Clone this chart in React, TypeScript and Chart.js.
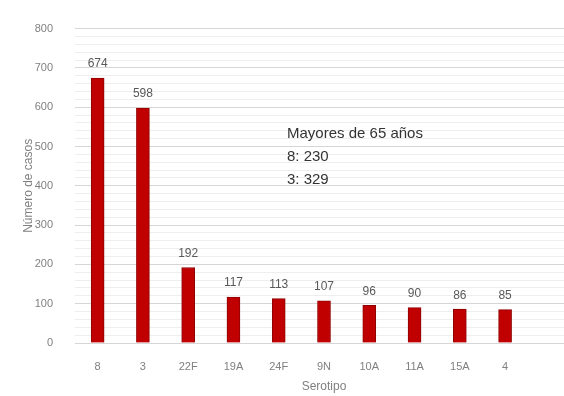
import React, { useEffect, useRef } from "react";
import { Chart, registerables } from "chart.js";

Chart.register(...registerables);

const categories = ["8", "3", "22F", "19A", "24F", "9N", "10A", "11A", "15A", "4", ""];
const casos = [674, 598, 192, 117, 113, 107, 96, 90, 86, 85, null];
const yTicksMax = 800;
const annotationLines = ["Mayores de 65 años", "8: 230", "3: 329"];
const yTitle = "Número de casos";
const xTitle = "Serotipo";

const FONT = "'Liberation Sans', Arial, sans-serif";

const labelPlugin = {
  id: "labels",
  afterDatasetsDraw(chart: any) {
    const ctx = chart.ctx;
    const meta = chart.getDatasetMeta(0);
    ctx.save();
    ctx.font = `12px ${FONT}`;
    ctx.fillStyle = "#595959";
    ctx.textAlign = "center";
    ctx.textBaseline = "middle";
    meta.data.forEach((bar: any, i: number) => {
      const v = casos[i];
      if (v == null) return;
      ctx.fillText(String(v), bar.x, bar.y - 14);
    });
    const area = chart.chartArea;
    ctx.font = `15px ${FONT}`;
    ctx.fillStyle = "#333333";
    ctx.textAlign = "left";
    annotationLines.forEach((t, i) => {
      ctx.fillText(t, area.left + 212, area.top + 105 + i * 23);
    });
    ctx.restore();
  },
};

export default function App() {
  const ref = useRef<HTMLCanvasElement>(null);
  useEffect(() => {
    if (!ref.current) return;
    const chart = new Chart(ref.current, {
      type: "bar",
      data: {
        labels: categories,
        datasets: [
          {
            data: casos as any,
            backgroundColor: "#c00000",
            borderColor: "#8e0000",
            borderWidth: 1,
            barThickness: 13,
          },
        ],
      },
      options: {
        animation: false,
        responsive: false,
        layout: { padding: { top: 25, right: 0, left: 0, bottom: 0 } },
        plugins: { legend: { display: false }, tooltip: { enabled: false } },
        scales: {
          x: {
            grid: { display: false, drawTicks: false },
            border: { display: false },
            ticks: { color: "#808080", font: { family: FONT, size: 11 }, padding: 17, maxRotation: 0, autoSkip: false },
            title: { display: true, text: xTitle, color: "#808080", font: { family: FONT, size: 12 }, padding: { top: 2, bottom: 2 } },
            afterFit: (s: any) => { s.height = 53; },
          },
          y: {
            min: 0,
            max: yTicksMax,
            grid: {
              drawTicks: false,
              color: (c: any) => (c.tick && c.tick.value % 100 === 0 ? "#d6d6d6" : "#eeeeee"),
              lineWidth: 1,
            },
            border: { display: false },
            ticks: {
              stepSize: 20,
              autoSkip: false,
              color: "#808080",
              font: { family: FONT, size: 11 },
              padding: 22,
              callback: (v: any) => (v % 100 === 0 ? String(v) : ""),
            },
            title: { display: true, text: yTitle, color: "#808080", font: { family: FONT, size: 12 }, padding: { top: 21, bottom: 0 } },
            afterFit: (s: any) => { s.width = 75; },
          },
        },
      },
      plugins: [labelPlugin],
    });
    return () => chart.destroy();
  }, []);
  return (
    <div style={{ position: "fixed", left: 0, top: 0, width: 564, height: 396, overflow: "hidden", background: "#fff" }}>
      <canvas ref={ref} width={573} height={396} />
    </div>
  );
}
